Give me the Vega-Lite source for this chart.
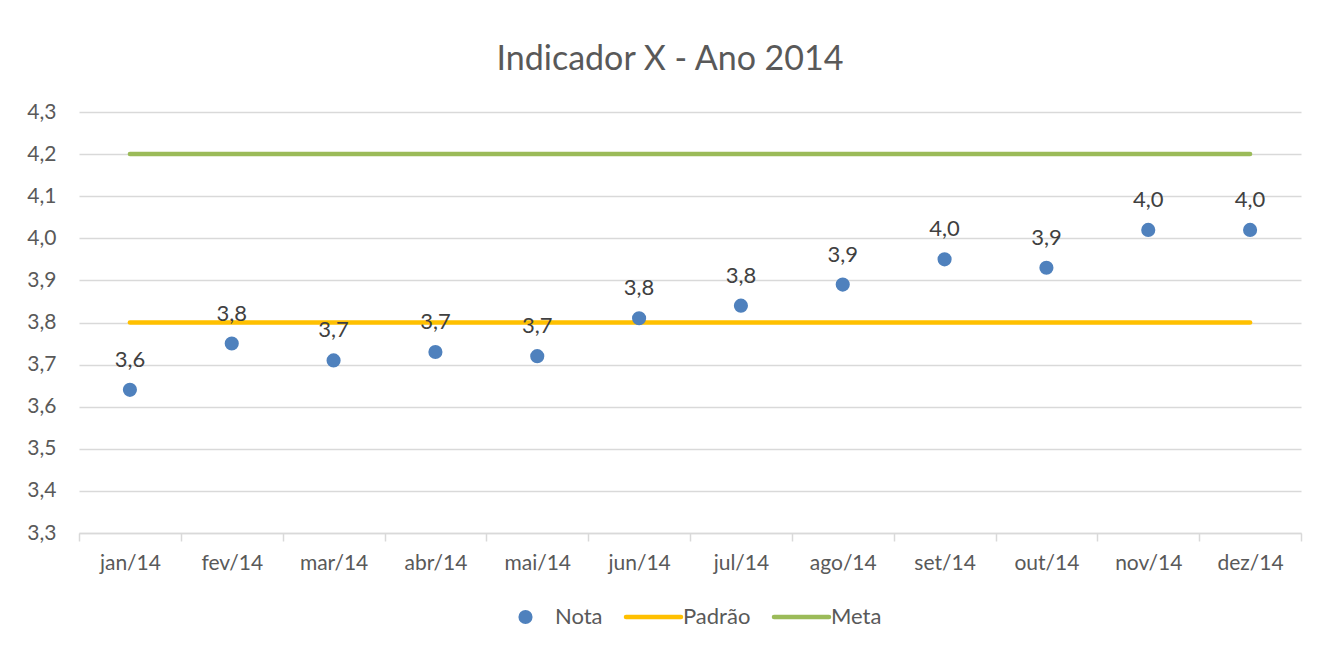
{
  "$schema": "https://vega.github.io/schema/vega-lite/v6.json",
  "width": 1222,
  "height": 421,
  "autosize": {"type": "none"},
  "padding": {"left": 79, "top": 112, "right": 23, "bottom": 116},
  "background": "white",
  "title": {
    "text": "Indicador X - Ano 2014",
    "font": "Lato",
    "fontSize": 34,
    "fontWeight": "normal",
    "color": "#595959",
    "baseline": "alphabetic",
    "offset": 30,
    "dx": -20,
    "dy": 33
  },
  "data": {
    "values": [
      {"mes": "jan/14", "serie": "Nota", "valor": 3.64},
      {"mes": "fev/14", "serie": "Nota", "valor": 3.75},
      {"mes": "mar/14", "serie": "Nota", "valor": 3.71},
      {"mes": "abr/14", "serie": "Nota", "valor": 3.73},
      {"mes": "mai/14", "serie": "Nota", "valor": 3.72},
      {"mes": "jun/14", "serie": "Nota", "valor": 3.81},
      {"mes": "jul/14", "serie": "Nota", "valor": 3.84},
      {"mes": "ago/14", "serie": "Nota", "valor": 3.89},
      {"mes": "set/14", "serie": "Nota", "valor": 3.95},
      {"mes": "out/14", "serie": "Nota", "valor": 3.93},
      {"mes": "nov/14", "serie": "Nota", "valor": 4.02},
      {"mes": "dez/14", "serie": "Nota", "valor": 4.02},
      {"mes": "jan/14", "serie": "Padrão", "valor": 3.8},
      {"mes": "fev/14", "serie": "Padrão", "valor": 3.8},
      {"mes": "mar/14", "serie": "Padrão", "valor": 3.8},
      {"mes": "abr/14", "serie": "Padrão", "valor": 3.8},
      {"mes": "mai/14", "serie": "Padrão", "valor": 3.8},
      {"mes": "jun/14", "serie": "Padrão", "valor": 3.8},
      {"mes": "jul/14", "serie": "Padrão", "valor": 3.8},
      {"mes": "ago/14", "serie": "Padrão", "valor": 3.8},
      {"mes": "set/14", "serie": "Padrão", "valor": 3.8},
      {"mes": "out/14", "serie": "Padrão", "valor": 3.8},
      {"mes": "nov/14", "serie": "Padrão", "valor": 3.8},
      {"mes": "dez/14", "serie": "Padrão", "valor": 3.8},
      {"mes": "jan/14", "serie": "Meta", "valor": 4.2},
      {"mes": "fev/14", "serie": "Meta", "valor": 4.2},
      {"mes": "mar/14", "serie": "Meta", "valor": 4.2},
      {"mes": "abr/14", "serie": "Meta", "valor": 4.2},
      {"mes": "mai/14", "serie": "Meta", "valor": 4.2},
      {"mes": "jun/14", "serie": "Meta", "valor": 4.2},
      {"mes": "jul/14", "serie": "Meta", "valor": 4.2},
      {"mes": "ago/14", "serie": "Meta", "valor": 4.2},
      {"mes": "set/14", "serie": "Meta", "valor": 4.2},
      {"mes": "out/14", "serie": "Meta", "valor": 4.2},
      {"mes": "nov/14", "serie": "Meta", "valor": 4.2},
      {"mes": "dez/14", "serie": "Meta", "valor": 4.2}
    ]
  },
  "encoding": {
    "x": {
      "field": "mes",
      "type": "ordinal",
      "sort": null,
      "scale": {"type": "band", "paddingInner": 0, "paddingOuter": 0},
      "axis": {
        "title": null,
        "labelAngle": 0,
        "tickBand": "extent",
        "grid": false,
        "domainColor": "#d9d9d9",
        "domainWidth": 1.5,
        "tickColor": "#d9d9d9",
        "tickWidth": 1.5,
        "tickSize": 8,
        "labelFont": "Lato",
        "labelFontSize": 21,
        "labelColor": "#595959",
        "labelPadding": 11
      }
    },
    "y": {
      "field": "valor",
      "type": "quantitative",
      "scale": {"domain": [3.3, 4.3], "nice": false, "zero": false},
      "axis": {
        "title": null,
        "values": [3.3, 3.4, 3.5, 3.6, 3.7, 3.8, 3.9, 4.0, 4.1, 4.2, 4.3],
        "format": ".1f",
        "domain": false,
        "ticks": false,
        "grid": true,
        "gridColor": "#d9d9d9",
        "gridWidth": 1.5,
        "labelFont": "Lato",
        "labelFontSize": 21,
        "labelColor": "#595959",
        "labelPadding": 23
      }
    }
  },
  "layer": [
    {
      "transform": [{"filter": "datum.serie !== 'Nota'"}],
      "mark": {"type": "line", "strokeWidth": 4.5, "strokeCap": "round"},
      "encoding": {
        "color": {
          "field": "serie",
          "type": "nominal",
          "scale": {"domain": ["Nota", "Padrão", "Meta"], "range": ["#4f81bd", "#ffc000", "#9bbb59"]},
          "legend": {
            "title": null,
            "orient": "bottom",
            "direction": "horizontal",
            "offset": 33,
            "labelFont": "Lato",
            "labelFontSize": 22,
            "labelColor": "#595959",
            "columnPadding": 14,
            "encode": {
              "symbols": {
                "update": {
                  "x": {"value": 27.5},
                  "shape": {"signal": "datum.value === 'Nota' ? 'circle' : 'stroke'"},
                  "size": {"signal": "datum.value === 'Nota' ? 200 : 3025"},
                  "fill": {"signal": "datum.value === 'Nota' ? '#4f81bd' : 'transparent'"},
                  "stroke": {"signal": "datum.value === 'Nota' ? '#4f81bd' : (datum.value === 'Padrão' ? '#ffc000' : '#9bbb59')"},
                  "strokeWidth": {"signal": "datum.value === 'Nota' ? 0 : 4.5"},
                  "strokeCap": {"value": "round"},
                  "opacity": {"value": 1}
                }
              },
              "labels": {
                "update": {
                  "x": {"value": 57}
                }
              }
            }
          }
        },
        "detail": {"field": "serie"}
      }
    },
    {
      "transform": [{"filter": "datum.serie === 'Nota'"}],
      "mark": {"type": "point", "filled": true, "size": 200, "opacity": 1},
      "encoding": {
        "color": {"field": "serie", "type": "nominal"}
      }
    },
    {
      "transform": [{"filter": "datum.serie === 'Nota'"}],
      "mark": {"type": "text", "dy": -30, "font": "Lato", "fontSize": 22, "color": "#404040", "baseline": "middle"},
      "encoding": {
        "text": {"field": "valor", "type": "quantitative", "format": ".1f"}
      }
    }
  ],
  "config": {
    "view": {"stroke": null},
    "legend": {"layout": {"bottom": {"anchor": "middle"}}},
    "locale": {"number": {"decimal": ",", "thousands": ".", "grouping": [3], "currency": ["R$", ""]}}
  }
}
